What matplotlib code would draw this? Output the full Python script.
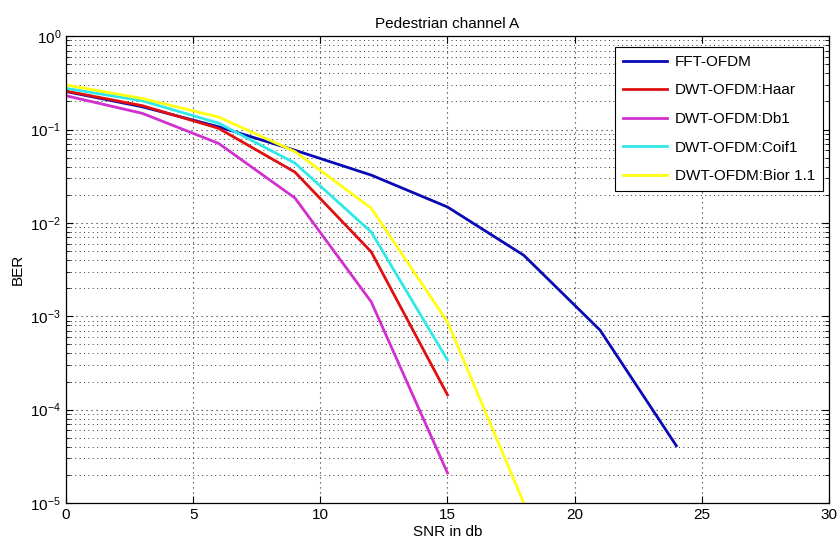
import numpy as np
import matplotlib
matplotlib.use('Agg')
import matplotlib.pyplot as plt
from matplotlib.ticker import LogLocator, NullFormatter, FixedLocator

plt.rcParams['font.family'] = ['Liberation Sans', 'DejaVu Sans']

# SNR points (dB) and BER
snr = [0, 3, 6, 9, 12, 15, 18, 21, 24]
snr_dwt = [0, 3, 6, 9, 12, 15]
snr_bior = [0, 3, 6, 9, 12, 15, 18]

ber_fft = [0.255, 0.175, 0.107, 0.060, 0.0325, 0.0148, 0.0045, 7.1e-4, 4.1e-5]
ber_haar = [0.258, 0.180, 0.103, 0.035, 0.0049, 1.44e-4]
ber_db1 = [0.230, 0.149, 0.071, 0.0185, 0.00143, 2.1e-5]
ber_coif1 = [0.276, 0.203, 0.117, 0.0437, 0.008, 3.4e-4]
ber_bior = [0.300, 0.215, 0.136, 0.058, 0.0144, 8.7e-4, 1.0e-5]

labels = ['FFT-OFDM', 'DWT-OFDM:Haar', 'DWT-OFDM:Db1', 'DWT-OFDM:Coif1', 'DWT-OFDM:Bior 1.1']
colors = ['#0a0ab4', '#e01010', '#d030d0', '#30e8e8', '#ffff10']

fig = plt.figure(figsize=(8.39, 5.56), dpi=100)
ax = fig.add_axes([0.0787, 0.0953, 0.9093, 0.8397])

ax.semilogy(snr, ber_fft, color=colors[0], lw=2, label=labels[0])
ax.semilogy(snr_dwt, ber_haar, color=colors[1], lw=2, label=labels[1])
ax.semilogy(snr_dwt, ber_db1, color=colors[2], lw=2, label=labels[2])
ax.semilogy(snr_dwt, ber_coif1, color=colors[3], lw=2, label=labels[3])
ax.semilogy(snr_bior, ber_bior, color=colors[4], lw=2, label=labels[4])

ax.set_xlim(0, 30)
ax.set_ylim(1e-5, 1)
ax.set_xticks([0, 5, 10, 15, 20, 25, 30])
ax.yaxis.set_major_locator(FixedLocator([1e-5, 1e-4, 1e-3, 1e-2, 1e-1, 1]))
ax.yaxis.set_minor_locator(LogLocator(base=10, subs=np.arange(2, 10), numticks=20))
ax.yaxis.set_minor_formatter(NullFormatter())

dots = (0, (1, 3.5))
ax.grid(True, which='major', linestyle=dots, color='#222222', linewidth=0.8)
ax.grid(True, which='minor', axis='y', linestyle=dots, color='#333333', linewidth=0.7)
ax.tick_params(which='both', direction='in', top=True, right=True, labelsize=11)
ax.tick_params(which='major', length=5)
ax.tick_params(which='minor', length=3)
for s in ax.spines.values():
    s.set_linewidth(0.9)

ax.set_title('Pedestrian channel A', fontsize=11)
ax.set_xlabel('SNR in db', fontsize=11, labelpad=2)
ax.set_ylabel('BER', fontsize=11)

leg = ax.legend(loc='upper right', bbox_to_anchor=(0.992, 0.976), fontsize=11,
                fancybox=False, framealpha=1, edgecolor='black',
                handlelength=2.9, handletextpad=0.5, labelspacing=0.95,
                borderaxespad=0, borderpad=0.5)
leg.get_frame().set_linewidth(0.8)

plt.savefig('out.png', dpi=100)
